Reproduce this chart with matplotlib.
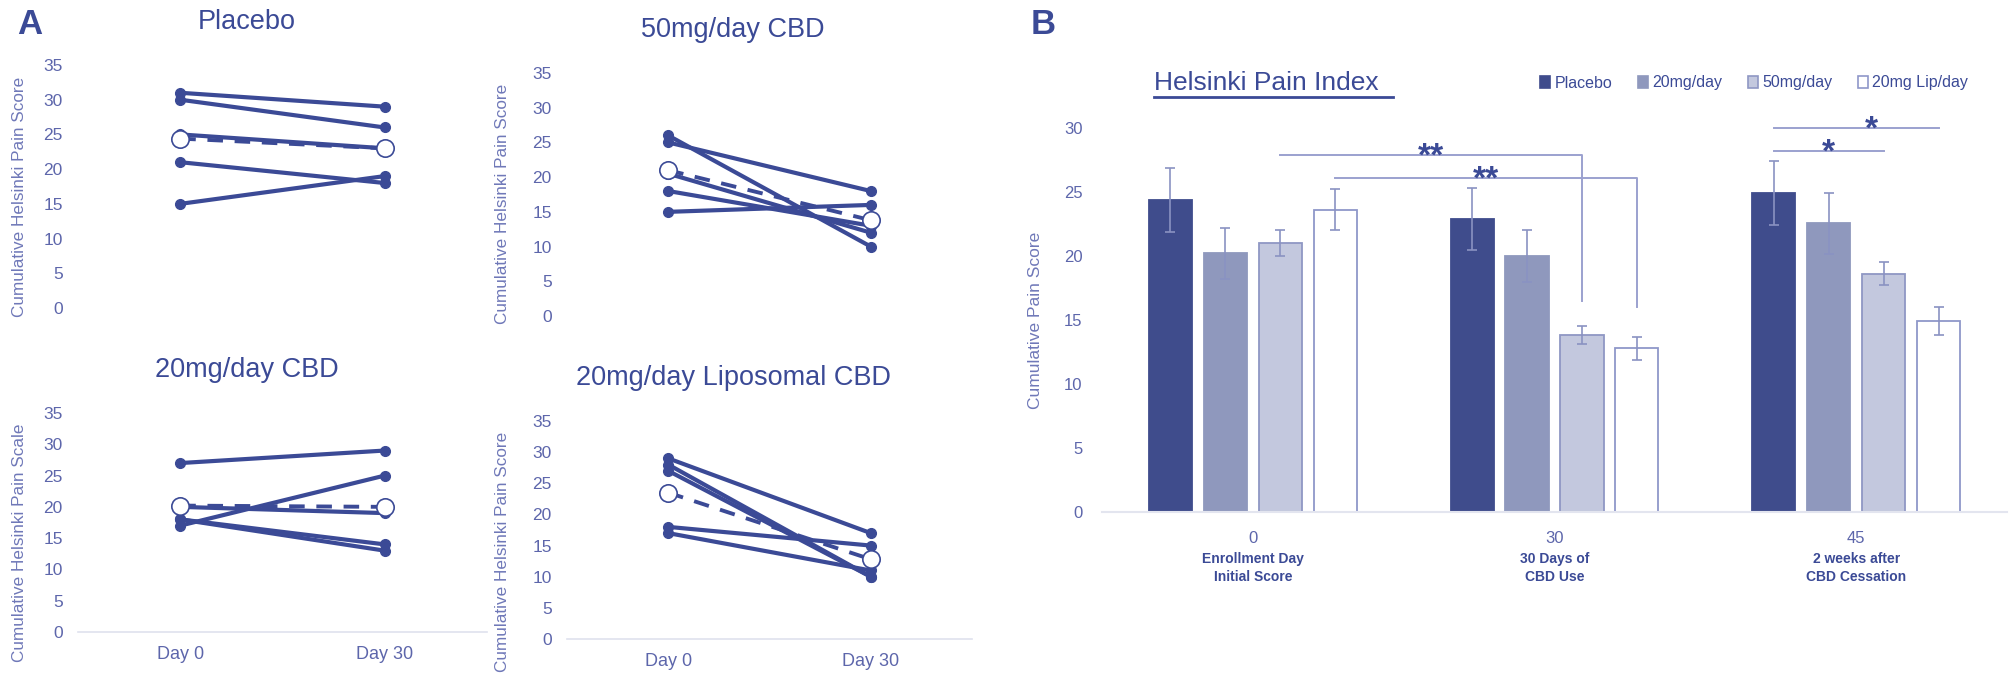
import numpy as np
import matplotlib
matplotlib.use('Agg')
import matplotlib.pyplot as plt
from matplotlib.patches import Patch
from matplotlib.lines import Line2D

# Panel A: individual patient scores (Day 0 -> Day 30)
days = ['Day 0', 'Day 30']
placebo_d0 = [31, 30, 25, 21, 15]
placebo_d30 = [29, 26, 23, 18, 19]
placebo_mean = [24.4, 23.0]
cbd50_d0 = [26, 25, 20.5, 18, 15]
cbd50_d30 = [10, 18, 12, 13, 16]
cbd50_mean = [21.0, 13.8]
cbd20_d0 = [27, 17, 20, 18, 18]
cbd20_d30 = [29, 25, 19, 14, 13]
cbd20_mean = [20.2, 20.0]
lipo_d0 = [29, 28, 27, 18, 17]
lipo_d30 = [17, 10, 10, 15, 11]
lipo_mean = [23.5, 12.8]

# Panel B: group means and errors
timepoints = ['0', '30', '45']
phases = ['Enrollment Day\nInitial Score', '30 Days of\nCBD Use', '2 weeks after\nCBD Cessation']
groups = ['Placebo', '20mg/day', '50mg/day', '20mg Lip/day']
means_b = [
    [24.4, 22.9, 24.95],
    [20.2, 20.0, 22.55],
    [21.0, 13.8, 18.6],
    [23.6, 12.8, 14.95],
]
errs_b = [
    [2.5, 2.4, 2.5],
    [2.0, 2.0, 2.4],
    [1.0, 0.7, 0.9],
    [1.6, 0.9, 1.1],
]

navy = '#3b4a96'
tick_col = '#5d66ab'
lab_col = '#6f78b8'
bar_face = ['#3f4c8c', '#8f98bd', '#c3c8de', '#ffffff']
bar_edge = ['#3f4c8c', '#8f98bd', '#8f97c4', '#8f97c9']
err_col = '#8a92c2'

plt.rcParams['font.family'] = ['Liberation Sans', 'DejaVu Sans']
narrow = ['Liberation Sans Narrow', 'Liberation Sans', 'DejaVu Sans']

W, H = 2016, 675
fig = plt.figure(figsize=(W / 100, H / 100), dpi=100, facecolor='white')


def px_axes(x0, x1, ybot, ytop):
    return fig.add_axes([x0 / W, 1 - ybot / H, (x1 - x0) / W, (ybot - ytop) / H])


panels = [
    ('Placebo', placebo_d0, placebo_d30, placebo_mean, (78, 487, 308, 65), False,
     'Cumulative Helsinki Pain Score', (247, 22), (-0.125, 0.457)),
    ('50mg/day CBD', cbd50_d0, cbd50_d30, cbd50_mean, (567, 972, 316, 73), False,
     'Cumulative Helsinki Pain Score', (733, 30), (-0.14, 0.46)),
    ('20mg/day CBD', cbd20_d0, cbd20_d30, cbd20_mean, (78, 487, 632, 413), True,
     'Cumulative Helsinki Pain Scale', (247, 370), (-0.125, 0.406)),
    ('20mg/day Liposomal CBD', lipo_d0, lipo_d30, lipo_mean, (567, 972, 639, 421), True,
     'Cumulative Helsinki Pain Score', (733, 378), (-0.14, 0.40)),
]

for title, d0, d30, mean, box, show_x, ylab, tpos, lpos in panels:
    ax = px_axes(*box)
    x = np.arange(len(days))
    for a, b in zip(d0, d30):
        ax.plot(x, [a, b], color=navy, lw=3.0, marker='o', ms=7,
                solid_capstyle='round', clip_on=False, zorder=3)
    ax.plot(x, mean, color=navy, lw=2.8, ls=(0, (4, 3)), zorder=4, clip_on=False)
    ax.plot(x, mean, ls='none', marker='o', ms=12.5, mfc='white', mec=navy,
            mew=1.2, zorder=5, clip_on=False)
    ax.set_xlim(-0.5, 1.5)
    ax.set_ylim(0, 35)
    ax.set_yticks(range(0, 36, 5))
    ax.tick_params(axis='y', length=0, pad=11, labelsize=12.5, labelcolor=tick_col)
    for s in ['top', 'right', 'left']:
        ax.spines[s].set_visible(False)
    if show_x:
        ax.spines['bottom'].set_color('#dfe1ee')
        ax.spines['bottom'].set_linewidth(1.2)
        ax.set_xticks(x)
        ax.set_xticklabels(days)
        ax.tick_params(axis='x', length=0, pad=10, labelsize=13, labelcolor=tick_col)
    else:
        ax.spines['bottom'].set_visible(False)
        ax.set_xticks([])
    ax.set_ylabel(ylab, fontsize=12.3, color=lab_col)
    ax.yaxis.set_label_coords(*lpos)
    fig.text(tpos[0] / W, 1 - tpos[1] / H, title, ha='center', va='center',
             fontsize=19.5, color=navy)

fig.text(30 / W, 1 - 25 / H, 'A', ha='center', va='center', fontsize=25,
         fontweight='bold', color=navy)
fig.text(1043 / W, 1 - 25 / H, 'B', ha='center', va='center', fontsize=25,
         fontweight='bold', color=navy)

# Panel B
axb = px_axes(1102, 2007, 512, 128)
xg = np.arange(len(timepoints))
bw = 0.143
step = 0.182
offs = (np.arange(len(groups)) - 1.5) * step
for i, g in enumerate(groups):
    axb.bar(xg + offs[i], means_b[i], width=bw, color=bar_face[i],
            edgecolor=bar_edge[i], linewidth=1.3, zorder=2)
    axb.errorbar(xg + offs[i], means_b[i], yerr=errs_b[i], fmt='none',
                 ecolor=err_col, elinewidth=1.2, capsize=3.5, capthick=1.2, zorder=3)

axb.set_xlim(-0.5, 2.5)
axb.set_ylim(0, 30)
axb.set_yticks(range(0, 31, 5))
axb.set_xticks(xg)
axb.set_xticklabels(timepoints)
for s in ['top', 'right', 'left']:
    axb.spines[s].set_visible(False)
axb.spines['bottom'].set_color('#e3e5ef')
axb.spines['bottom'].set_linewidth(1.5)
axb.tick_params(axis='y', length=0, pad=14, labelcolor=tick_col)
axb.tick_params(axis='x', length=0, pad=14, labelcolor=tick_col)
for lbl in axb.get_yticklabels() + axb.get_xticklabels():
    lbl.set_family(narrow)
    lbl.set_fontsize(12)
for i, ph in enumerate(phases):
    axb.text(xg[i], -0.105, ph, transform=axb.get_xaxis_transform(), ha='center',
             va='top', fontsize=10, fontweight='bold', color=navy, family=narrow,
             linespacing=1.3)
axb.set_ylabel('Cumulative Pain Score', fontsize=12.5, color=lab_col)
axb.yaxis.set_label_coords((1043 - 1102) / 905, (512 - 320) / 384)

# significance brackets
br_col = '#9ba1cf'
x50_0, x50_1 = xg[0] + offs[2], xg[1] + offs[2]
xl_0, xl_1 = xg[0] + offs[3], xg[1] + offs[3]
axb.plot([x50_0, x50_1, x50_1], [27.9, 27.9, 16.5], color=br_col, lw=1.4, clip_on=False)
axb.plot([xl_0, xl_1, xl_1], [26.1, 26.1, 16.0], color=br_col, lw=1.4, clip_on=False)
star_kw = dict(ha='center', va='center', fontsize=24, color=navy, family=narrow,
               fontweight='bold')
axb.text((x50_0 + x50_1) / 2, 27.75, '**', **star_kw)
axb.text((xl_0 + xl_1) / 2, 25.95, '**', **star_kw)
xp2, x502, xl2 = xg[2] + offs[0], xg[2] + offs[2], xg[2] + offs[3]
axb.plot([xp2, x502], [28.2, 28.2], color=br_col, lw=1.4, clip_on=False)
axb.plot([xp2, xl2], [30.0, 30.0], color=br_col, lw=1.4, clip_on=False)
axb.text((xp2 + x502) / 2, 28.05, '*', **star_kw)
axb.text((xp2 + xl2) / 2 + 0.05, 29.85, '*', **star_kw)

# title with underline
fig.text(1154 / W, 1 - 83 / H, 'Helsinki Pain Index', ha='left', va='center',
         fontsize=19, color=navy, family=narrow)
fig.add_artist(Line2D([1154 / W, 1393 / W], [1 - 97 / H, 1 - 97 / H],
                      color=navy, lw=2))

handles = [Patch(facecolor=bar_face[i], edgecolor=bar_edge[i] if i > 0 else bar_face[i],
                 linewidth=1.2) for i in range(len(groups))]
fig.legend(handles, groups, loc='center left', bbox_to_anchor=(1526 / W, 1 - 83 / H),
           ncol=4, frameon=False, handlelength=0.6, handleheight=0.8,
           handletextpad=0.3, columnspacing=1.6,
           prop={'family': narrow, 'size': 11.5}, labelcolor=navy)

plt.savefig('out.png', dpi=100, facecolor='white')
plt.close()
